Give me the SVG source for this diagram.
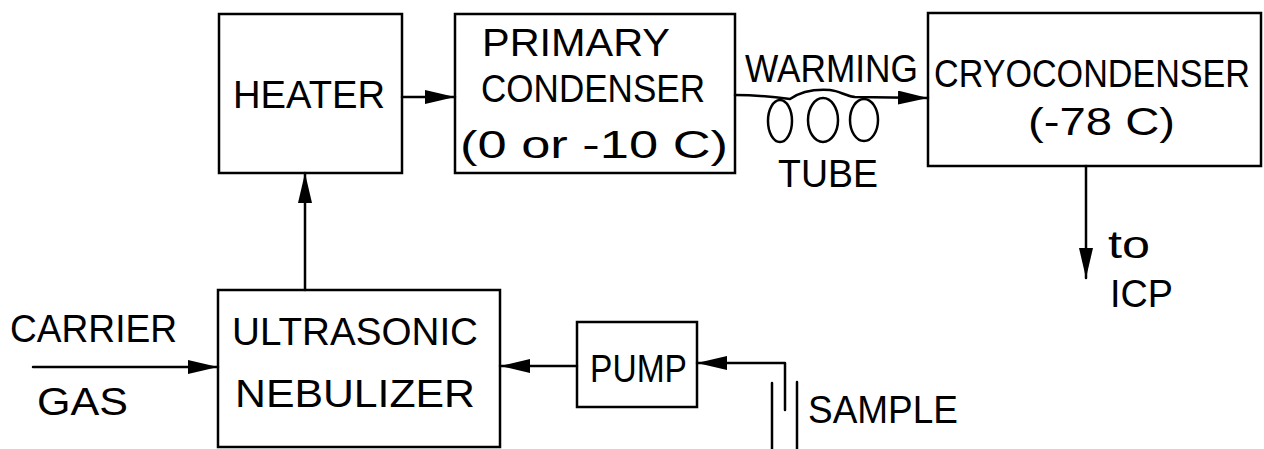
<svg xmlns="http://www.w3.org/2000/svg" width="1264" height="449" viewBox="0 0 1264 449">
<style>
.bg{fill:#fff}
.box{fill:none;stroke:#000;stroke-width:2.5}
.ln{fill:none;stroke:#000;stroke-width:2.5;stroke-linecap:round;stroke-linejoin:round}
.arr{marker-end:url(#ah)}
.t{font-family:"Liberation Sans","DejaVu Sans",Arial,sans-serif;font-size:39px;fill:#000}
</style>
<defs>
<marker id="ah" markerUnits="userSpaceOnUse" markerWidth="32" markerHeight="16" refX="30" refY="7" orient="auto">
<path d="M0,0 L30,7 L0,14 z" fill="#000"/>
</marker>
</defs>
<rect class="bg" x="0" y="0" width="1264" height="449"/>
<g id="heater">
<rect class="box" x="219" y="14" width="183" height="159"/>
<text class="t" x="233" y="108" textLength="152" lengthAdjust="spacingAndGlyphs">HEATER</text>
</g>
<g id="primary-condenser">
<rect class="box" x="455" y="14" width="280" height="159"/>
<text class="t" x="482" y="56" textLength="188" lengthAdjust="spacingAndGlyphs">PRIMARY</text>
<text class="t" x="481" y="102" textLength="224" lengthAdjust="spacingAndGlyphs">CONDENSER</text>
<text class="t" x="460" y="158" textLength="268" lengthAdjust="spacingAndGlyphs">(0 or -10 C)</text>
</g>
<g id="cryocondenser">
<rect class="box" x="928" y="13" width="333" height="153"/>
<text class="t" transform="translate(934,87) scale(1,1.15)" x="0" y="0" style="font-size:34px" textLength="316" lengthAdjust="spacingAndGlyphs">CRYOCONDENSER</text>
<text class="t" x="1028" y="135" textLength="147" lengthAdjust="spacingAndGlyphs">(-78 C)</text>
</g>
<g id="ultrasonic-nebulizer">
<rect class="box" x="218" y="290" width="282" height="157"/>
<text class="t" x="232" y="345" textLength="246" lengthAdjust="spacingAndGlyphs">ULTRASONIC</text>
<text class="t" x="235" y="407" textLength="240" lengthAdjust="spacingAndGlyphs">NEBULIZER</text>
</g>
<g id="pump">
<rect class="box" x="577" y="322" width="120" height="85"/>
<text class="t" x="590" y="382" textLength="97" lengthAdjust="spacingAndGlyphs">PUMP</text>
</g>
<g id="sample">
<path class="ln" d="M772,383 L772,449 M797,382 L797,449"/>
<text class="t" x="808" y="423" textLength="150" lengthAdjust="spacingAndGlyphs">SAMPLE</text>
</g>
<g id="carrier-gas">
<text class="t" x="10" y="342" textLength="167" lengthAdjust="spacingAndGlyphs">CARRIER</text>
<text class="t" x="37" y="415" textLength="91" lengthAdjust="spacingAndGlyphs">GAS</text>
</g>
<g id="warming-tube">
<text class="t" x="745" y="82" textLength="173" lengthAdjust="spacingAndGlyphs">WARMING</text>
<text class="t" x="778" y="187" textLength="100" lengthAdjust="spacingAndGlyphs">TUBE</text>
<ellipse class="ln" cx="780" cy="121" rx="12" ry="21"/>
<ellipse class="ln" cx="823" cy="120" rx="15" ry="22"/>
<ellipse class="ln" cx="864" cy="120" rx="14" ry="21"/>
</g>
<g id="to-icp">
<text class="t" x="1108" y="258" textLength="42" lengthAdjust="spacingAndGlyphs">to</text>
<text class="t" x="1110" y="307" textLength="63" lengthAdjust="spacingAndGlyphs">ICP</text>
</g>
<g id="connectors">
<path class="ln arr" d="M402,97 L455,97"/>
<path class="ln arr" d="M735,95 C760,95 775,97 790,99 C800,92 815,89 830,90 C840,91 845,96 855,97 L928,98"/>
<path class="ln arr" d="M305,290 L305,173"/>
<path class="ln arr" d="M33,367 L218,367"/>
<path class="ln arr" d="M577,366 L500,366"/>
<path class="ln arr" d="M785,410 L785,363 L697,363"/>
<path class="ln arr" d="M1086,166 L1086,278"/>
</g>
</svg>
